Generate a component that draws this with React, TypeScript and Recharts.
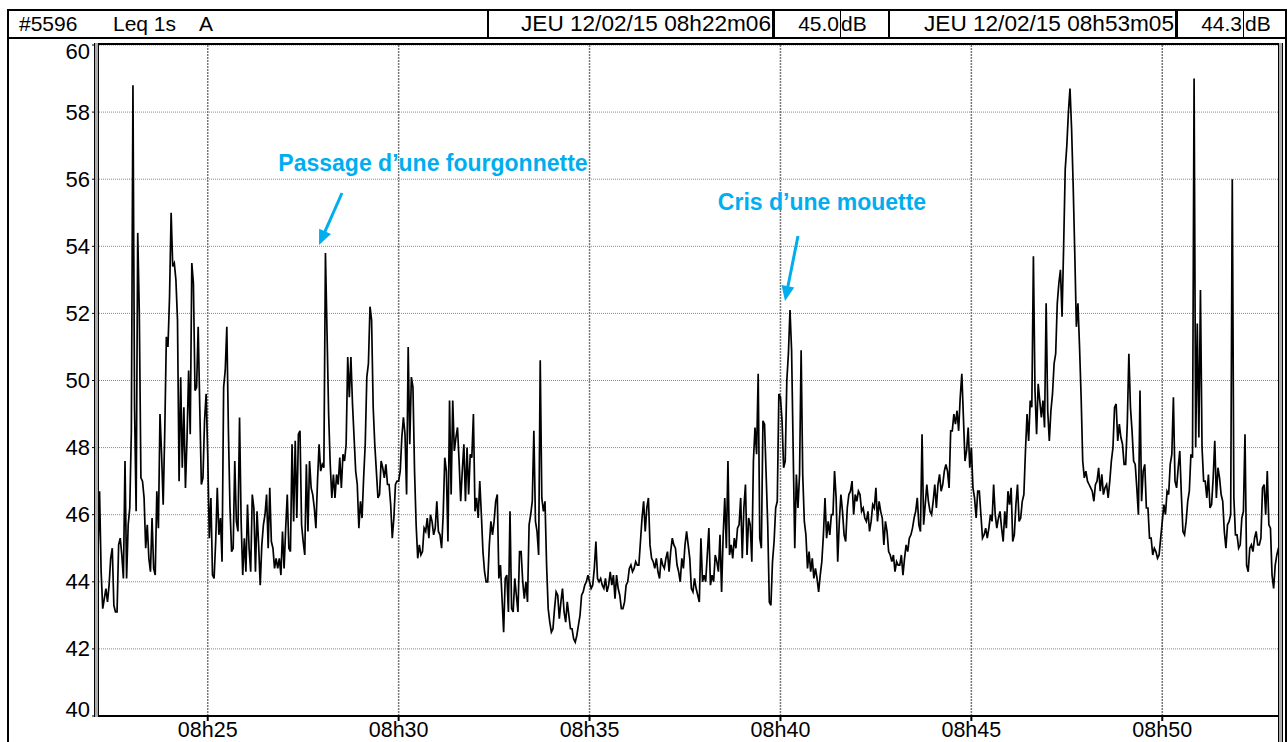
import React from "react";
import { LineChart, Line, XAxis, YAxis, CartesianGrid } from "recharts";

const START = 22 * 60 + 5; // seconds after 08h00
const STEP = 2.5;

// 08h22m05 -> 08h24m57
const levels2225 = [
  44.5, 44.8, 46.7, 44.3, 43.2, 43.5, 43.8, 43.4, 43.9, 44.7, 45.0, 43.3, 43.1, 43.1, 45.1, 45.3, 44.8, 44.1, 47.6, 44.1,
  45.7, 46.2, 48.5, 58.8, 49.2, 46.1, 54.4, 52.0, 47.1, 47.0, 46.5, 45.0, 45.7, 44.7, 44.3, 45.9, 44.4, 44.2, 46.7, 45.6,
  49.0, 47.8, 46.3, 48.5, 51.3, 51.0, 52.5, 55.0, 53.4, 53.5, 53.0, 51.8, 47.0, 50.1, 47.4, 49.2, 46.8, 48.3, 50.3, 48.4,
  53.5, 52.9, 49.7, 49.8, 51.6, 49.2, 46.9, 47.1, 48.8, 49.6,
];
// 08h25 -> 08h29m57
const levels2530 = [
  47.8, 45.3, 46.5, 44.2, 44.1, 45.2, 46.8, 45.4, 45.9, 44.6, 49.8, 50.3, 51.6, 48.5, 46.2, 44.9, 45.0, 47.6, 45.8, 45.5,
  48.9, 45.8, 44.2, 45.3, 44.3, 46.3, 45.0, 44.3, 46.6, 46.2, 44.3, 46.1, 45.1, 43.9, 45.1, 45.7, 46.0, 46.6, 45.0, 46.8,
  45.2, 45.0, 44.4, 44.7, 44.4, 44.7, 44.2, 45.5, 44.4, 45.6, 46.6, 45.0, 44.9, 48.1, 45.8, 48.2, 45.9, 48.4, 48.5, 45.7,
  45.2, 44.8, 47.5, 45.5, 47.6, 46.8, 46.6, 46.2, 45.6, 47.0, 48.1, 47.3, 47.5, 47.4, 53.8, 51.4, 49.0, 47.5, 46.5, 47.2,
  46.5, 47.2, 46.9, 47.7, 46.8, 47.8, 47.6, 48.1, 50.7, 49.5, 50.7, 49.3, 48.3, 47.3, 46.9, 45.6, 46.4, 45.9, 47.1, 48.1,
  50.1, 50.5, 52.2, 51.8, 49.2, 48.1, 47.3, 46.5, 46.6, 47.6, 47.4, 47.1, 47.5, 46.9, 46.9, 46.3, 45.3, 45.9, 46.9, 47.0,
];
// 08h30 -> 08h34m57
const levels3035 = [
  47.0, 47.3, 48.3, 48.9, 48.4, 46.6, 51.0, 48.1, 50.1, 49.8, 47.3, 45.7, 44.7, 45.1, 44.8, 44.9, 45.6, 45.5, 45.9, 45.3,
  46.0, 45.8, 45.4, 45.6, 46.4, 45.5, 45.4, 45.0, 46.0, 47.7, 47.3, 45.2, 49.4, 46.6, 49.4, 47.9, 48.3, 48.6, 47.6, 46.4,
  47.3, 48.1, 46.4, 48.0, 46.6, 47.8, 47.7, 49.0, 46.1, 46.5, 45.9, 47.0, 46.0, 44.9, 44.3, 44.0, 44.0, 45.1, 45.8, 45.4,
  45.8, 46.4, 46.6, 44.1, 44.5, 43.5, 42.5, 44.1, 44.2, 43.1, 46.1, 43.2, 43.1, 44.1, 43.6, 43.1, 44.9, 44.9, 44.0, 43.5,
  44.0, 43.4, 45.7, 46.0, 46.4, 48.5, 45.8, 45.5, 44.8, 50.6, 46.5, 46.1, 46.4, 44.5, 43.2, 42.8, 42.5, 42.6, 43.2, 43.7,
  43.6, 42.9, 43.4, 43.8, 43.1, 42.8, 43.4, 43.0, 42.6, 42.6, 42.3, 42.2, 42.4, 42.7, 43.0, 43.6, 43.7, 43.9, 44.0, 44.2,
];
// 08h35 -> 08h39m57
const levels3540 = [
  44.0, 43.8, 43.9, 44.4, 45.2, 44.1, 44.0, 44.1, 43.9, 43.8, 44.1, 43.7, 43.9, 44.3, 43.9, 44.2, 43.5, 44.2, 43.8, 43.6,
  43.2, 43.2, 43.4, 43.9, 44.0, 44.4, 44.5, 44.3, 44.4, 44.6, 44.5, 44.5, 45.2, 45.9, 46.4, 45.5, 46.2, 46.5, 45.1, 44.7,
  44.6, 44.4, 44.7, 44.3, 44.1, 44.7, 44.5, 44.4, 44.7, 44.9, 44.3, 44.9, 45.3, 45.1, 45.0, 44.5, 44.3, 44.0, 44.7, 44.4,
  45.1, 45.5, 45.1, 44.7, 43.8, 43.7, 44.1, 43.8, 43.6, 43.4, 45.3, 44.0, 44.2, 44.0, 44.8, 45.6, 43.9, 44.2, 44.0, 44.8,
  44.6, 44.3, 45.4, 43.7, 45.4, 46.5, 45.0, 47.6, 44.8, 45.1, 44.7, 45.3, 45.0, 45.6, 45.7, 46.5, 44.7, 46.2, 46.9, 44.8,
  45.9, 45.7, 44.6, 47.6, 48.6, 47.8, 50.2, 45.3, 45.0, 48.8, 48.7, 47.2, 45.7, 43.4, 43.3, 44.6, 45.2, 46.2, 46.4, 49.6,
];
// 08h40 -> 08h44m57
const levels4045 = [
  49.5, 48.8, 47.4, 47.6, 50.0, 50.8, 52.1, 50.9, 47.9, 45.0, 47.2, 46.2, 47.2, 50.9, 47.2, 45.8, 45.4, 44.4, 44.9, 44.3,
  44.7, 44.1, 44.4, 44.1, 43.7, 44.2, 44.6, 45.4, 46.5, 45.3, 45.8, 45.4, 46.0, 46.0, 47.3, 46.5, 44.6, 45.8, 46.6, 46.1,
  45.4, 45.2, 46.2, 46.6, 46.7, 47.0, 46.0, 46.6, 46.4, 46.7, 46.6, 46.1, 46.2, 45.9, 45.8, 46.1, 45.5, 45.8, 46.3, 46.2,
  46.8, 45.8, 46.4, 46.1, 45.9, 45.1, 45.8, 45.5, 44.9, 44.8, 44.6, 44.8, 44.3, 44.6, 44.5, 44.5, 44.8, 44.2, 44.7, 45.1,
  44.9, 45.3, 45.4, 45.6, 45.9, 46.1, 46.5, 45.7, 45.5, 48.4, 45.7, 46.3, 46.9, 46.4, 46.1, 46.0, 46.4, 46.9, 46.2, 46.9,
  47.2, 46.7, 46.9, 47.3, 47.5, 47.3, 46.8, 48.5, 48.5, 49.0, 48.7, 49.1, 48.5, 49.5, 50.2, 48.9, 47.6, 47.9, 48.6, 47.4,
];
// 08h45 -> 08h49m57
const levels4550 = [
  48.0, 46.8, 46.5, 45.9, 46.7, 46.7, 46.0, 45.3, 45.4, 45.6, 45.3, 45.6, 46.0, 45.8, 46.9, 46.0, 45.6, 45.9, 46.1, 45.6,
  45.2, 46.1, 45.6, 46.7, 46.3, 46.8, 45.2, 45.4, 46.3, 46.9, 45.8, 45.9, 46.4, 46.6, 47.9, 49.0, 48.2, 49.4, 49.2, 53.7,
  49.7, 48.4, 49.9, 49.4, 48.9, 49.4, 48.6, 52.3, 49.1, 48.2, 49.1, 49.6, 50.5, 50.8, 52.3, 52.9, 53.3, 51.9, 54.0, 56.3,
  57.0, 58.0, 58.7, 57.5, 55.8, 53.8, 51.6, 52.3, 51.0, 49.5, 47.6, 47.1, 47.3, 47.0, 46.9, 46.8, 46.7, 46.4, 46.9, 47.0,
  47.4, 46.7, 47.2, 46.6, 46.8, 46.9, 46.5, 47.0, 47.6, 48.0, 49.2, 49.3, 48.2, 48.7, 48.3, 48.1, 47.5, 47.5, 48.7, 50.8,
  49.2, 48.5, 47.6, 47.5, 46.8, 46.0, 49.7, 46.4, 47.3, 47.5, 46.2, 46.2, 45.3, 45.3, 44.8, 45.0, 44.9, 44.7, 44.8, 45.3,
];
// 08h50 -> 08h53m05
const levels5053 = [
  45.8, 46.3, 46.0, 46.7, 46.6, 47.5, 47.8, 49.5, 47.0, 46.8, 47.4, 47.9, 46.6, 45.5, 45.4, 45.8, 46.4, 46.7, 47.8, 47.7,
  59.0, 48.0, 51.7, 48.3, 52.7, 48.0, 47.0, 47.0, 46.5, 47.2, 46.2, 46.3, 47.1, 48.2, 46.5, 47.4, 47.1, 46.6, 46.4, 45.5,
  45.0, 45.7, 45.8, 46.0, 56.0, 46.5, 45.4, 45.4, 45.0, 45.1, 45.9, 46.1, 48.4, 44.5, 44.3, 45.0, 45.1, 44.9, 45.3, 45.5,
  45.1, 45.1, 45.3, 46.8, 46.9, 46.0, 47.3, 45.7, 45.6, 44.2, 43.8, 44.5, 44.8, 45.0, 45.0,
];

const timeTicks = [25, 30, 35, 40, 45, 50];
const dbTicks = [40, 42, 44, 46, 48, 50, 52, 54, 56, 58, 60];

const levels = [
  ...levels2225, ...levels2530, ...levels3035, ...levels3540,
  ...levels4045, ...levels4550, ...levels5053,
];
const data = levels.map((v, i) => ({ t: START + i * STEP, leq: v }));

const FONT = '"Liberation Sans", Arial, Helvetica, sans-serif';
const BLUE = "#00AEEF";

const fmtTime = (s: number) => `08h${String(Math.round(s / 60)).padStart(2, "0")}`;

function DbTick(props: any) {
  const { x, y, payload } = props;
  const v = payload.value;
  // end labels are kept inside the frame on the print
  const dy = v === 60 ? 6 : v === 40 ? -7 : 0;
  return (
    <text x={x} y={y + dy} textAnchor="end" dominantBaseline="central" fontSize={22} fill="#000" fontFamily={FONT}>
      {v}
    </text>
  );
}

function Arrow({ x1, y1, x2, y2 }: { x1: number; y1: number; x2: number; y2: number }) {
  const dx = x2 - x1;
  const dy = y2 - y1;
  const len = Math.hypot(dx, dy);
  const ux = dx / len;
  const uy = dy / len;
  const bx = x2 - ux * 15;
  const by = y2 - uy * 15;
  const px = -uy * 6.5;
  const py = ux * 6.5;
  return (
    <g>
      <line x1={x1} y1={y1} x2={bx + ux * 2} y2={by + uy * 2} stroke={BLUE} strokeWidth={3} />
      <polygon points={`${x2},${y2} ${bx + px},${by + py} ${bx - px},${by - py}`} fill={BLUE} />
    </g>
  );
}

const cell = (extra: React.CSSProperties): React.CSSProperties => ({
  position: "absolute",
  top: 10,
  height: 27,
  lineHeight: "27px",
  fontSize: 21,
  whiteSpace: "pre",
  ...extra,
});

const vline = (left: number, w: number): React.CSSProperties => ({
  position: "absolute",
  left,
  top: 9,
  width: w,
  height: 29,
  background: "#000",
});

export default function App() {
  return (
    <div
      style={{
        position: "absolute",
        left: 0,
        top: 0,
        width: 1288,
        height: 742,
        overflow: "hidden",
        background: "#fff",
        fontFamily: FONT,
        color: "#000",
      }}
    >
      {/* outer frame */}
      <div style={{ position: "absolute", left: 7, top: 9, width: 1276, height: 780, border: "2px solid #000" }} />
      <div style={{ position: "absolute", left: 7, top: 37, width: 1280, height: 2, background: "#000" }} />
      <div style={vline(487, 2)} />
      <div style={vline(772, 3)} />
      <div style={vline(840, 1)} />
      <div style={vline(888, 2)} />
      <div style={vline(1175, 3)} />
      <div style={vline(1243, 1)} />

      <span style={cell({ left: 19 })}>#5596</span>
      <span style={cell({ left: 113 })}>Leq 1s</span>
      <span style={cell({ left: 199 })}>A</span>
      <span style={cell({ right: 1288 - 771, textAlign: "right", fontSize: 22.6 })}>JEU 12/02/15 08h22m06</span>
      <span style={cell({ right: 1288 - 839, textAlign: "right" })}>45.0</span>
      <span style={cell({ left: 841 })}>dB</span>
      <span style={cell({ right: 1288 - 1174, textAlign: "right", fontSize: 22.6 })}>JEU 12/02/15 08h53m05</span>
      <span style={cell({ right: 1288 - 1242, textAlign: "right" })}>44.3</span>
      <span style={cell({ left: 1245 })}>dB</span>

      <div style={{ position: "absolute", left: 0, top: 0 }}>
        <LineChart
          width={1288}
          height={742}
          data={data}
          margin={{ top: 45, right: 8, bottom: 0, left: 37 }}
        >
          <CartesianGrid vertical={false} stroke="#888" strokeDasharray="1 1" />
          <CartesianGrid horizontal={false} stroke="#777" strokeWidth={1.5} strokeDasharray="2 1" />
          <XAxis
            dataKey="t"
            type="number"
            domain={[22 * 60 + 6, 53 * 60 + 5]}
            allowDataOverflow
            ticks={timeTicks.map((m) => m * 60)}
            tickFormatter={fmtTime}
            height={26}
            stroke="#000"
            strokeWidth={2}
            tickSize={5}
            tickMargin={1}
            tick={{ fill: "#000", fontSize: 21.5, fontFamily: FONT }}
          />
          <YAxis
            type="number"
            domain={[40, 60]}
            ticks={dbTicks}
            width={60}
            stroke="#000"
            strokeWidth={1}
            tickSize={5}
            tickMargin={2}
            tick={<DbTick />}
            interval={0}
          />
          <Line
            type="linear"
            dataKey="leq"
            stroke="#000"
            strokeWidth={1.7}
            strokeLinejoin="miter"
            dot={false}
            isAnimationActive={false}
          />
        </LineChart>
      </div>

      {/* plot frame: bevelled left and right edges */}
      <div style={{ position: "absolute", left: 96, top: 43, width: 1187, height: 2, background: "#000" }} />
      <div style={{ position: "absolute", left: 94, top: 43, width: 3, height: 674, background: "#aaa", borderLeft: "1px solid #000", borderRight: "1px solid #000" }} />
      <div style={{ position: "absolute", left: 1278, top: 43, width: 3, height: 700, background: "#aaa", borderLeft: "1px solid #000", borderRight: "1px solid #000" }} />

      <svg style={{ position: "absolute", left: 0, top: 0 }} width={1288} height={742}>
        <text x={433} y={163} textAnchor="middle" dominantBaseline="central" fontSize={23} fontWeight="bold" fill={BLUE} fontFamily={FONT}>
          Passage d’une fourgonnette
        </text>
        <Arrow x1={342} y1={193} x2={319} y2={245} />
        <text x={822} y={202} textAnchor="middle" dominantBaseline="central" fontSize={23} fontWeight="bold" fill={BLUE} fontFamily={FONT}>
          Cris d’une mouette
        </text>
        <Arrow x1={798} y1={236} x2={785} y2={301} />
      </svg>
    </div>
  );
}
